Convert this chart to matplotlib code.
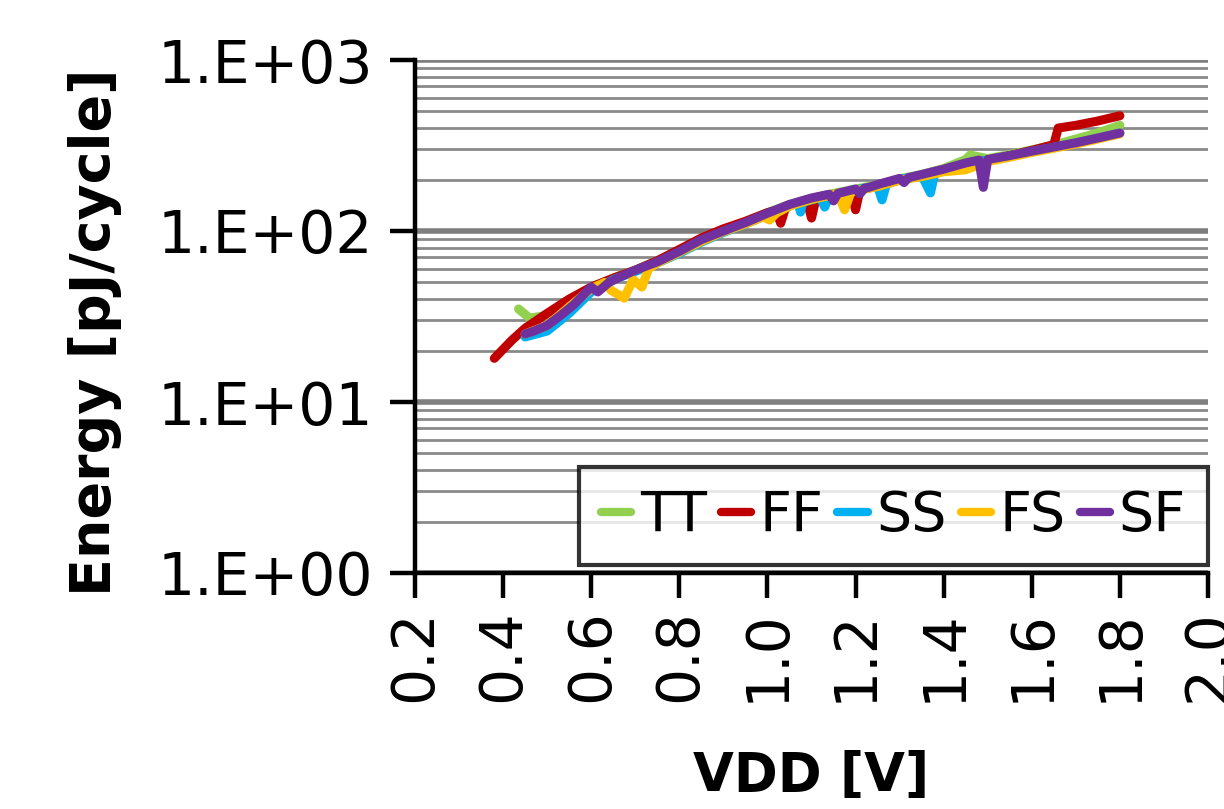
import matplotlib
matplotlib.use("Agg")
import matplotlib.pyplot as plt
from matplotlib.ticker import LogLocator, FixedLocator, FuncFormatter

# ---- data ----
tt_x = [0.435, 0.46, 0.50, 0.55, 0.60, 0.65, 0.70, 0.75, 0.80, 0.85, 0.90, 0.95, 1.00, 1.05, 1.10,
        1.15, 1.20, 1.25, 1.30, 1.35, 1.40, 1.45, 1.46, 1.50, 1.55, 1.60, 1.65, 1.70, 1.75, 1.80]
tt_y = [35, 31, 32, 39, 47, 53, 59, 67, 77, 90, 101, 113, 128, 143, 155,
        166, 176, 186, 202, 214, 232, 262, 278, 265, 280, 298, 318, 345, 375, 415]

ff_x = [0.38, 0.42, 0.45, 0.50, 0.55, 0.60, 0.65, 0.70, 0.75, 0.80, 0.85, 0.90, 0.95, 1.00, 1.02,
        1.03, 1.04, 1.05, 1.09, 1.10, 1.11, 1.15, 1.19, 1.20, 1.21, 1.25, 1.30, 1.35, 1.40, 1.45,
        1.50, 1.55, 1.60, 1.65, 1.66, 1.70, 1.75, 1.80]
ff_y = [18, 23, 27, 33, 40, 47, 53, 59, 67, 78, 91, 103, 114, 128, 132,
        111, 134, 141, 150, 119, 154, 163, 172, 133, 174, 183, 199, 211, 226, 244,
        260, 276, 296, 320, 400, 415, 440, 472]

ss_x = [0.45, 0.50, 0.55, 0.60, 0.65, 0.70, 0.75, 0.80, 0.85, 0.90, 0.95, 1.00, 1.05, 1.07, 1.075,
        1.08, 1.12, 1.13, 1.14, 1.20, 1.25, 1.26, 1.27, 1.30, 1.35, 1.37, 1.38, 1.40, 1.45, 1.50,
        1.55, 1.60, 1.65, 1.70, 1.75, 1.80]
ss_y = [24, 26, 33, 44, 52, 58, 65, 74, 86, 98, 110, 124, 140, 146, 129,
        147, 157, 138, 160, 174, 184, 152, 188, 200, 212, 167, 218, 228, 246, 260,
        275, 292, 309, 327, 349, 373]

fs_x = [0.45, 0.50, 0.55, 0.60, 0.63, 0.645, 0.675, 0.695, 0.715, 0.73, 0.75, 0.80, 0.85, 0.90, 0.95,
        0.99, 1.005, 1.02, 1.05, 1.10, 1.15, 1.16, 1.175, 1.19, 1.20, 1.25, 1.30, 1.35, 1.40, 1.45,
        1.50, 1.55, 1.60, 1.65, 1.70, 1.75, 1.80]
fs_y = [25, 28, 36, 46, 50, 45, 40.5, 52, 47, 60, 65, 75, 87, 99, 110,
        121, 116, 127, 140, 153, 163, 166, 133, 170, 172, 182, 198, 208, 222, 228,
        255, 270, 288, 305, 323, 345, 370]

sf_x = [0.45, 0.47, 0.50, 0.53, 0.56, 0.60, 0.615, 0.64, 0.66, 0.70, 0.75, 0.80, 0.85, 0.90, 0.95,
        1.00, 1.05, 1.10, 1.14, 1.15, 1.16, 1.20, 1.21, 1.22, 1.23, 1.25, 1.30, 1.31, 1.32, 1.33,
        1.35, 1.40, 1.45, 1.48, 1.49, 1.50, 1.55, 1.60, 1.65, 1.70, 1.75, 1.80]
sf_y = [25, 26, 28, 32, 37, 47, 44, 50, 53, 59, 66, 76, 89, 100, 112,
        127, 143, 156, 164, 150, 166, 176, 165, 178, 180, 187, 203, 192, 205, 208,
        214, 230, 250, 260, 180, 262, 276, 293, 310, 328, 350, 374]

series_names = ["TT", "FF", "SS", "FS", "SF"]
series_colors = ["#92D050", "#C00000", "#00B0F0", "#FFC000", "#7030A0"]
x_ticks = [0.2, 0.4, 0.6, 0.8, 1.0, 1.2, 1.4, 1.6, 1.8, 2.0]
y_ticks = [1, 10, 100, 1000]
y_tick_labels = ["1.E+00", "1.E+01", "1.E+02", "1.E+03"]

# ---- plot ----
plt.rcParams['font.family'] = ['DejaVu Sans']
fig = plt.figure(figsize=(12.24, 8.09), dpi=100)
ax = fig.add_axes([415/1224, 1 - 573/809, (1208 - 415)/1224, (573 - 60)/809])

xs = [tt_x, ff_x, ss_x, fs_x, sf_x]
ys = [tt_y, ff_y, ss_y, fs_y, sf_y]
for x, y, name, c in zip(xs, ys, series_names, series_colors):
    ax.plot(x, y, color=c, lw=6.5, label=name, solid_joinstyle='round', solid_capstyle='round')

ax.set_yscale('log')
ax.set_ylim(1, 1000)
ax.set_xlim(0.2, 2.0)

ax.yaxis.set_major_locator(FixedLocator(y_ticks))
ax.yaxis.set_major_formatter(FuncFormatter(lambda v, p: y_tick_labels[y_ticks.index(round(v))] if round(v) in y_ticks else ""))
ax.yaxis.set_minor_locator(LogLocator(base=10, subs=range(2, 10)))
ax.xaxis.set_major_locator(FixedLocator(x_ticks))
ax.set_xticklabels([f"{v:.1f}" for v in x_ticks], rotation=90)

ax.grid(True, which='major', axis='y', color='#7f7f7f', lw=4)
ax.grid(True, which='minor', axis='y', color='#8a8a8a', lw=2)
ax.set_axisbelow(True)

for s in ['top', 'right']:
    ax.spines[s].set_visible(False)
for s in ['left', 'bottom']:
    ax.spines[s].set_linewidth(3.2)
    ax.spines[s].set_color('black')

ax.tick_params(axis='y', which='major', length=18, width=3.2, labelsize=42, pad=12, direction='out')
ax.tick_params(axis='y', which='minor', length=0)
ax.tick_params(axis='x', which='major', length=18, width=3.2, labelsize=42, pad=8, direction='out')

ax.set_ylabel("Energy [pJ/cycle]", fontsize=40, fontweight='bold')
ax.yaxis.set_label_coords(-0.37, 0.47)
ax.set_xlabel("VDD [V]", fontsize=38, fontweight='bold')
ax.xaxis.set_label_coords(0.5, -0.345)

leg = ax.legend(loc='lower right', bbox_to_anchor=(1.0, 0.015), ncol=5, fontsize=40,
                handlelength=0.55, handletextpad=0.15, columnspacing=0.25, borderpad=0.4,
                frameon=True, fancybox=False, borderaxespad=0.0)
leg.get_frame().set_edgecolor('black')
leg.get_frame().set_linewidth(3)
for h in leg.get_lines():
    h.set_linewidth(6)

fig.savefig("out.png", dpi=100)
